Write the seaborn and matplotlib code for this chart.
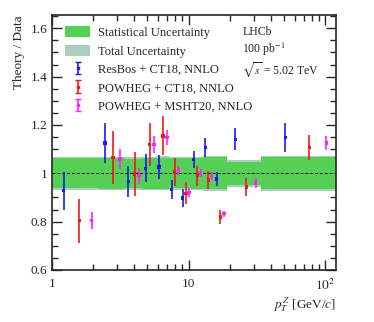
import numpy as np
import pandas as pd
import matplotlib
matplotlib.use("Agg")
import matplotlib.pyplot as plt
import seaborn as sns
from matplotlib.patches import Patch
from matplotlib.ticker import FixedLocator, FixedFormatter, MultipleLocator, LogLocator, NullFormatter

# ---- data ----
bin_edges = [1.0, 2.2, 3.4, 4.6, 5.8, 7.2, 8.7, 10.5, 12.8, 15.4, 19.0, 34.0, 120.0]
stat_unc = [0.062, 0.063, 0.061, 0.063, 0.064, 0.062, 0.062, 0.063, 0.066, 0.066, 0.048, 0.066]
tot_unc = [0.068, 0.069, 0.067, 0.069, 0.070, 0.068, 0.068, 0.069, 0.073, 0.072, 0.056, 0.072]

resbos_x = [1.22, 2.45, 3.63, 4.86, 6.07, 7.51, 9.04, 10.9, 13.3, 16.1, 22.0, 51.1]
resbos_y = [0.928, 1.126, 0.966, 1.020, 1.026, 0.933, 0.898, 1.057, 1.107, 0.976, 1.141, 1.148]
resbos_err = [0.079, 0.083, 0.064, 0.058, 0.050, 0.040, 0.036, 0.034, 0.039, 0.028, 0.045, 0.059]

powct_x = [1.59, 2.80, 4.03, 5.19, 6.49, 7.91, 9.56, 11.6, 14.0, 17.1, 26.5, 76.8]
powct_y = [0.804, 1.066, 0.997, 1.119, 1.155, 1.006, 0.917, 0.990, 0.972, 0.819, 0.944, 1.107]
powct_err = [0.091, 0.110, 0.090, 0.088, 0.080, 0.058, 0.045, 0.041, 0.036, 0.029, 0.037, 0.052]

powms_x = [1.95, 3.15, 4.34, 5.58, 6.94, 8.41, 10.1, 12.3, 14.8, 18.2, 31.0, 102.0]
powms_y = [0.804, 1.059, 0.990, 1.119, 1.148, 1.013, 0.920, 1.002, 0.988, 0.833, 0.960, 1.126]
powms_err = [0.036, 0.041, 0.033, 0.034, 0.031, 0.019, 0.019, 0.016, 0.017, 0.012, 0.021, 0.028]

labels = ["ResBos + CT18, NNLO", "POWHEG + CT18, NNLO", "POWHEG + MSHT20, NNLO"]
colors = ["#1a1aee", "#ee1a1a", "#ff22ff"]

sns.set_style("ticks")
plt.rcParams["font.family"] = ["Liberation Serif", "DejaVu Serif"]
plt.rcParams["mathtext.fontset"] = "stix"

fig = plt.figure(figsize=(3.74, 3.22), dpi=100)
ax = fig.add_axes([0.139, 0.1615, 0.759, 0.792])

# uncertainty bands
edges = np.array(bin_edges)
tot = np.array(tot_unc + [tot_unc[-1]])
st = np.array(stat_unc + [stat_unc[-1]])
ax.fill_between(edges, 1 - tot, 1 + tot, step="post", color="#a9cfc1", lw=0, zorder=1)
ax.fill_between(edges, 1 - st, 1 + st, step="post", color="#55d055", lw=0, zorder=2)
ax.axhline(1.0, color="black", ls=(0, (3, 2)), lw=0.7, zorder=3)

series = [(resbos_x, resbos_y, resbos_err), (powct_x, powct_y, powct_err), (powms_x, powms_y, powms_err)]
frames = []
for (x, y, e), lab in zip(series, labels):
    frames.append(pd.DataFrame({"x": x, "y": y, "err": e, "model": lab}))
df = pd.concat(frames, ignore_index=True)

for lab, c in zip(labels, colors):
    d = df[df.model == lab]
    ax.errorbar(d.x, d.y, yerr=d.err, fmt="none", ecolor=c, elinewidth=1.2, capsize=0, zorder=4)
sns.scatterplot(data=df, x="x", y="y", hue="model", palette=dict(zip(labels, colors)),
                marker="s", s=6, edgecolor="none", legend=False, ax=ax, zorder=5)

ax.set_xscale("log")
ax.set_xlim(1, 120)
ax.set_ylim(0.6, 1.655)

ax.xaxis.set_major_locator(FixedLocator([1, 10, 100]))
ax.xaxis.set_major_formatter(FixedFormatter(["1", "10", r"$10^2$"]))
ax.xaxis.set_minor_locator(LogLocator(base=10, subs=np.arange(2, 10)))
ax.xaxis.set_minor_formatter(NullFormatter())
ax.yaxis.set_major_locator(FixedLocator([0.6, 0.8, 1.0, 1.2, 1.4, 1.6]))
ax.yaxis.set_major_formatter(FixedFormatter(["0.6", "0.8", "1", "1.2", "1.4", "1.6"]))
ax.yaxis.set_minor_locator(MultipleLocator(0.05))

ax.tick_params(which="both", direction="in", top=True, right=True, labelsize=9.5, width=1.0)
ax.tick_params(which="major", length=7)
ax.tick_params(which="minor", length=4)
ax.tick_params(axis="x", which="major", pad=6)
for sp in ax.spines.values():
    sp.set_linewidth(1.2)

ax.set_xlabel(r"$p_T^{\,Z}$ [GeV/$c$]", loc="right", fontsize=9.5, labelpad=1)
ax.set_ylabel("Theory / Data", loc="top", fontsize=9.5)

# legend
handles = [Patch(facecolor="#55d055", edgecolor="none"), Patch(facecolor="#a9cfc1", edgecolor="none")]
for lab, c in zip(labels, colors):
    h = ax.errorbar([np.nan], [np.nan], yerr=[0.1], fmt="s", color=c, ms=2, elinewidth=1.2, capsize=2.5)
    handles.append(h)
ax.legend(handles, ["Statistical Uncertainty", "Total Uncertainty"] + labels,
          loc="upper left", bbox_to_anchor=(0.02, 0.985), frameon=False, fontsize=9,
          handlelength=2.0, handleheight=1.0, labelspacing=0.45, handletextpad=0.6, borderaxespad=0.2)

ax.text(0.67, 0.955, "LHCb\n100 pb$^{-1}$\n$\\sqrt{s}$ = 5.02 TeV", transform=ax.transAxes,
        fontsize=8.5, va="top", ha="left", linespacing=1.15)

fig.savefig("out.png", dpi=100)
